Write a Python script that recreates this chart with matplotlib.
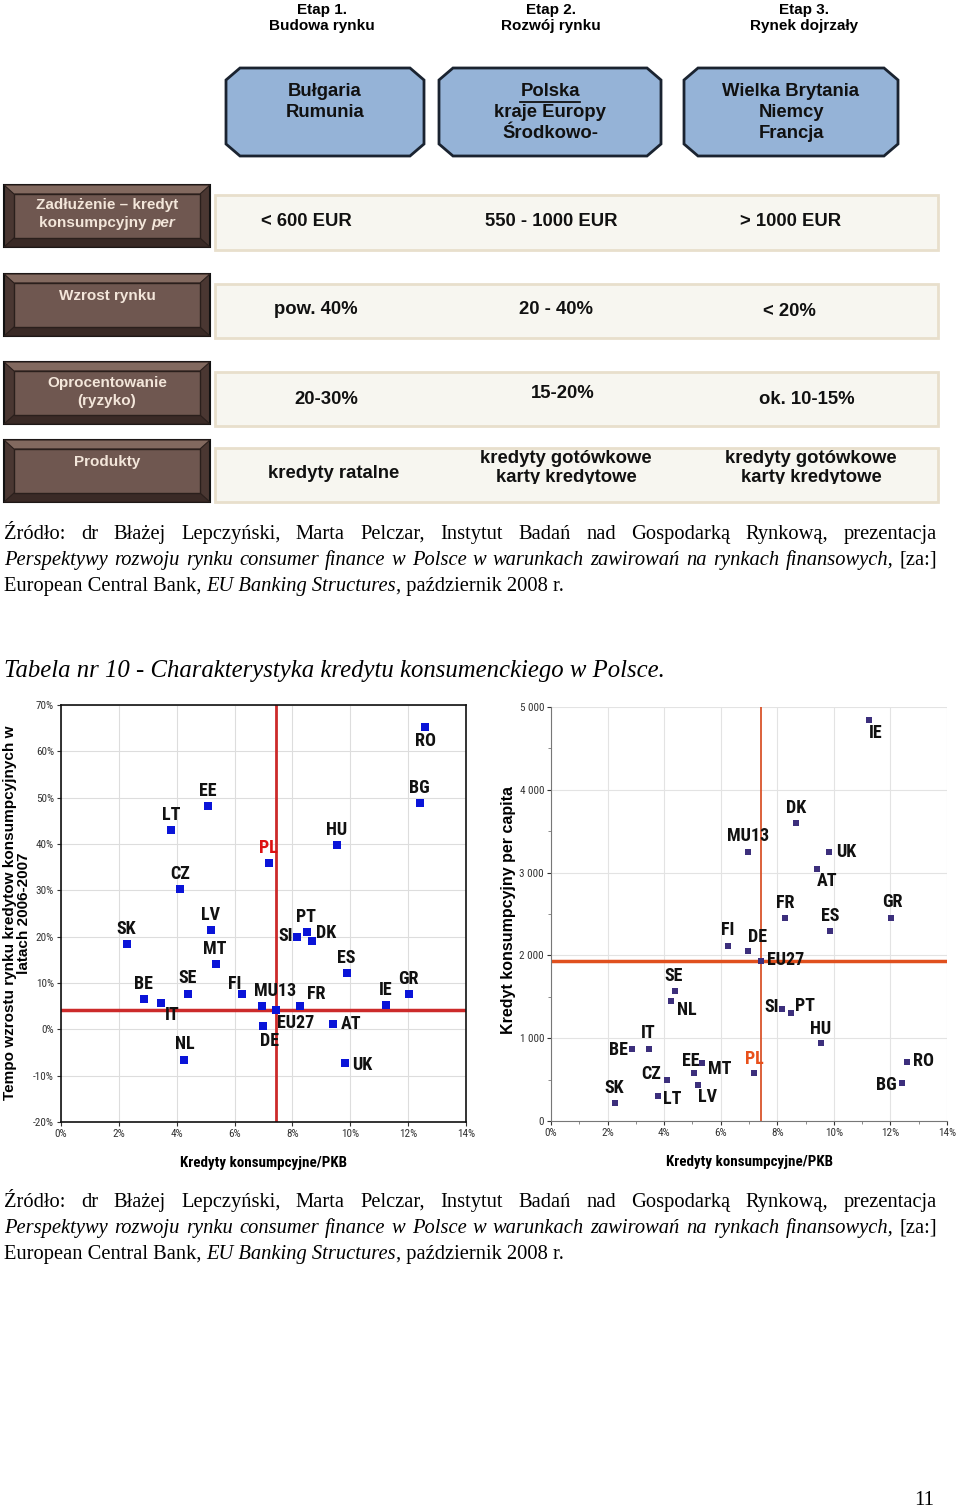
import matplotlib
matplotlib.use("Agg")
import matplotlib.pyplot as plt
from matplotlib.patches import Polygon, Rectangle
from matplotlib import font_manager
from matplotlib.ticker import FuncFormatter, MultipleLocator

# waska czcionka zamiast Arial Narrow
_fonts = {(f.name, f.weight) for f in font_manager.fontManager.ttflist}
NARROW = 'Liberation Sans'
for cand in ['Roboto Condensed', 'Open Sans Condensed', 'Fira Sans Condensed']:
    if any(n == cand and w in (700, 'bold') for n, w in _fonts):
        NARROW = cand
        break
SANS = 'Liberation Sans'
SERIF = 'Liberation Serif'

# ---- dane ----
etapy = ["Etap 1.\nBudowa rynku", "Etap 2.\nRozwój rynku", "Etap 3.\nRynek dojrzały"]
kraje_etapu = [["Bułgaria", "Rumunia"], ["Polska", "kraje Europy", "Środkowo-"],
               ["Wielka Brytania", "Niemcy", "Francja"]]
wiersze = ["Zadłużenie – kredyt\nkonsumpcyjny per", "Wzrost rynku", "Oprocentowanie\n(ryzyko)", "Produkty"]
zadluzenie = ["< 600 EUR", "550 - 1000 EUR", "> 1000 EUR"]
wzrost_rynku = ["pow. 40%", "20 - 40%", "< 20%"]
oprocentowanie = ["20-30%", "15-20%", "ok. 10-15%"]
produkty = ["kredyty ratalne", "kredyty gotówkowe\nkarty kredytowe", "kredyty gotówkowe\nkarty kredytowe"]

kraje = ['RO', 'BG', 'EE', 'LT', 'HU', 'PL', 'CZ', 'SK', 'LV', 'PT', 'SI', 'DK', 'MT', 'ES',
         'BE', 'IT', 'SE', 'FI', 'MU13', 'FR', 'EU27', 'IE', 'GR', 'DE', 'AT', 'NL', 'UK']
kredyty_pkb = [12.6, 12.4, 5.07, 3.8, 9.54, 7.18, 4.1, 2.27, 5.2, 8.5, 8.17, 8.66, 5.35, 9.87,
               2.88, 3.45, 4.38, 6.26, 6.95, 8.26, 7.44, 11.24, 12.02, 6.98, 9.4, 4.25, 9.83]
tempo_wzrostu = [65.3, 48.9, 48.2, 43.0, 39.8, 35.9, 30.2, 18.5, 21.4, 21.0, 19.9, 19.0, 14.1, 12.2,
                 6.6, 5.6, 7.7, 7.7, 5.1, 5.1, 4.1, 5.2, 7.7, 0.7, 1.1, -6.7, -7.25]
per_capita = [709, 463, 576, 306, 947, 576, 500, 222, 439, 1301, 1350, 3598, 701, 2297,
              874, 874, 1575, 2111, 3247, 2450, 1930, 4839, 2450, 2051, 3042, 1446, 3247]

# przesuniecia etykiet w px (dx, dy w dol, wyrownanie)
etyk_lewy = {'RO': (0, 14, 'center'), 'BG': (0, -15, 'center'), 'EE': (0, -15, 'center'),
             'LT': (0, -15, 'center'), 'HU': (0, -15, 'center'), 'PL': (0, -15, 'center'),
             'CZ': (1, -15, 'center'), 'SK': (0, -15, 'center'), 'LV': (-1, -15, 'center'),
             'PT': (-1, -15, 'center'), 'SI': (-4, -1, 'right'), 'DK': (4, -8, 'left'),
             'MT': (-1, -15, 'center'), 'ES': (0, -15, 'center'), 'BE': (-1, -15, 'center'),
             'IT': (11, 12, 'center'), 'SE': (0, -16, 'center'), 'FI': (-7, -10, 'center'),
             'MU13': (13, -15, 'center'), 'FR': (16, -12, 'center'), 'EU27': (19, 13, 'center'),
             'IE': (0, -15, 'center'), 'GR': (0, -15, 'center'), 'DE': (7, 15, 'center'),
             'AT': (8, 0, 'left'), 'NL': (1, -16, 'center'), 'UK': (7, 2, 'left')}
etyk_prawy = {'IE': (7, 13, 'center'), 'DK': (0, -15, 'center'), 'MU13': (0, -16, 'center'),
              'UK': (7, 0, 'left'), 'AT': (10, 12, 'center'), 'FR': (1, -15, 'center'),
              'GR': (1, -16, 'center'), 'ES': (0, -15, 'center'), 'FI': (0, -16, 'center'),
              'DE': (9, -14, 'center'), 'EU27': (6, -1, 'left'), 'SE': (-1, -15, 'center'),
              'NL': (6, 9, 'left'), 'SI': (-3, -2, 'right'), 'PT': (4, -7, 'left'),
              'HU': (0, -14, 'center'), 'BE': (-5, 1, 'right'), 'IT': (0, -16, 'center'),
              'RO': (6, -1, 'left'), 'MT': (6, 6, 'left'), 'EE': (-4, -12, 'center'),
              'PL': (0, -14, 'center'), 'CZ': (-6, -6, 'right'), 'LV': (9, 12, 'center'),
              'BG': (-5, 2, 'right'), 'LT': (5, 3, 'left'), 'SK': (-1, -15, 'center')}

fig = plt.figure(figsize=(9.6, 15.09), dpi=100)
ax0 = fig.add_axes([0, 0, 1, 1])
ax0.set_xlim(0, 960)
ax0.set_ylim(1509, 0)
ax0.set_axis_off()
rend = fig.canvas.get_renderer()

# ---- naglowki etapow ----
for x, t in zip([322, 551, 804], etapy):
    ax0.text(x, 18, t, ha='center', va='center', fontsize=11, fontweight='bold',
             family=SANS, linespacing=1.2)

# ---- osmiokaty ----
boxes = [(226, 424), (439, 661), (684, 898)]
y0, y1, cx, cy = 68, 156, 14, 12
for (xa, xb), lines in zip(boxes, kraje_etapu):
    pts = [(xa + cx, y0), (xb - cx, y0), (xb, y0 + cy), (xb, y1 - cy), (xb - cx, y1),
           (xa + cx, y1), (xa, y1 - cy), (xa, y0 + cy)]
    ax0.add_patch(Polygon(pts, closed=True, fc='#95B3D7', ec='#1a2330', lw=2))
    xm = (xa + xb) / 2
    for i, s in enumerate(lines):
        t = ax0.text(xm, 91 + 21.5 * i, s, ha='center', va='center', fontsize=13.3,
                     fontweight='bold', family=SANS, color='#111111')
        if s == "Polska":
            bb = t.get_window_extent(rend)
            ax0.plot([bb.x0, bb.x1], [101.5, 101.5], color='#111111', lw=1.3)

# ---- wiersze tabeli ----
rows_brown = [(185, 247), (274, 336), (362, 424), (440, 502)]
rows_light = [(195, 250), (284, 338), (372, 426), (448, 502)]
for (ya, yb) in rows_brown:
    xa, xb, ix, iy = 4, 210, 10, 9
    ax0.add_patch(Rectangle((xa, ya), xb - xa, yb - ya, fc='#4a3732', ec='#111111', lw=1.5))
    ax0.add_patch(Polygon([(xa, ya), (xb, ya), (xb - ix, ya + iy), (xa + ix, ya + iy)], fc='#82695f', ec='#2a1f1c', lw=0.8))
    ax0.add_patch(Polygon([(xa, yb), (xb, yb), (xb - ix, yb - iy), (xa + ix, yb - iy)], fc='#3a2a26', ec='#2a1f1c', lw=0.8))
    ax0.add_patch(Rectangle((xa + ix, ya + iy), xb - xa - 2 * ix, yb - ya - 2 * iy, fc='#6f5750', ec='#2a1f1c', lw=1))
for (ya, yb) in rows_light:
    ax0.add_patch(Rectangle((215, ya), 723, yb - ya, fc='#f7f6f0', ec='#e8dfcc', lw=2))

cream = '#f3e6da'
ax0.text(107, 205, "Zadłużenie – kredyt", ha='center', va='center', fontsize=11,
         fontweight='bold', family=SANS, color=cream)
t1 = ax0.text(0, 223, "konsumpcyjny ", va='center', fontsize=11, fontweight='bold', family=SANS, color=cream)
t2 = ax0.text(0, 223, "per", va='center', fontsize=11, fontweight='bold', style='italic', family=SANS, color=cream)
w1 = t1.get_window_extent(rend).width
w2 = t2.get_window_extent(rend).width
t1.set_x(107 - (w1 + w2) / 2)
t2.set_x(107 - (w1 + w2) / 2 + w1)
ax0.text(107, 296, wiersze[1], ha='center', va='center', fontsize=11, fontweight='bold', family=SANS, color=cream)
ax0.text(107, 392, wiersze[2], ha='center', va='center', fontsize=11, fontweight='bold', family=SANS, color=cream, linespacing=1.3)
ax0.text(107, 462, wiersze[3], ha='center', va='center', fontsize=11, fontweight='bold', family=SANS, color=cream)

kw = dict(ha='center', va='center', fontsize=13.3, fontweight='bold', family=SANS, color='#111111')
for x, s in zip([306, 551, 791], zadluzenie):
    ax0.text(x, 222, s, **kw)
for x, y, s in zip([316, 556, 789], [310, 310, 312], wzrost_rynku):
    ax0.text(x, y, s, **kw)
for x, y, s in zip([326, 563, 807], [400, 394, 400], oprocentowanie):
    ax0.text(x, y, s, **kw)
# drugi wiersz produktow jest w oryginale uciety od dolu
clip = Rectangle((215, 440), 723, 44, transform=ax0.transData, fc='none', ec='none')
ax0.add_patch(clip)
for x, s in zip([334, 566, 811], produkty):
    if '\n' in s:
        t = ax0.text(x, 468, s, linespacing=1.15, **kw)
        t.set_clip_on(True)
        t.set_clip_path(clip)
    else:
        ax0.text(x, 473, s, **kw)

# ---- teksty zrodla ----
def justify(y, words, x0=4, x1=937, size=14.8):
    ts = [ax0.text(0, y, w, fontsize=size, family=SERIF, style=st, va='baseline') for w, st in words]
    ws = [t.get_window_extent(rend).width for t in ts]
    gap = (x1 - x0 - sum(ws)) / (len(ts) - 1)
    x = x0
    for t, w in zip(ts, ws):
        t.set_x(x)
        x += w + gap

def flow(y, parts, x0=4, size=14.8):
    x = x0
    for s, st, sp in parts:
        t = ax0.text(x, y, s, fontsize=size, family=SERIF, style=st, va='baseline')
        x += t.get_window_extent(rend).width + sp

linia1 = "Źródło: dr Błażej Lepczyński, Marta Pelczar, Instytut Badań nad Gospodarką Rynkową, prezentacja"
linia2 = "Perspektywy rozwoju rynku consumer finance w Polsce w warunkach zawirowań na rynkach finansowych,"

def zrodlo(ybase):
    justify(ybase, [(w, 'normal') for w in linia1.split()])
    justify(ybase + 26, [(w, 'italic') for w in linia2.split()] + [("[za:]", 'normal')])
    flow(ybase + 52, [("European Central Bank,", 'normal', 5), ("EU Banking Structures", 'italic', 0),
                      (", październik 2008 r.", 'normal', 0)])

zrodlo(539)
zrodlo(1207)

ax0.text(4, 677, "Tabela nr 10 - Charakterystyka kredytu konsumenckiego w Polsce.", fontsize=17.8,
         family=SERIF, style='italic', va='baseline')
ax0.text(924, 1505, "11", fontsize=15, family=SERIF, ha='center', va='baseline')

# ---- wykres lewy ----
pct = FuncFormatter(lambda v, p: f"{v:.0f}%")
axL = fig.add_axes([61 / 960, 1 - 1122 / 1509, 405 / 960, 417 / 1509])
axL.set_xlim(0, 14)
axL.set_ylim(-20, 70)
axL.xaxis.set_major_locator(MultipleLocator(2))
axL.yaxis.set_major_locator(MultipleLocator(10))
axL.xaxis.set_major_formatter(pct)
axL.yaxis.set_major_formatter(pct)
axL.grid(True, color='#dddddd', lw=0.8)
axL.set_axisbelow(True)
for sp in axL.spines.values():
    sp.set_color('#111111')
    sp.set_linewidth(1.2)
axL.tick_params(labelsize=8, length=3, colors='#333333', pad=2)
for lab in axL.get_xticklabels() + axL.get_yticklabels():
    lab.set_family(NARROW)
axL.axhline(4.1, color='#cc2a2a', lw=2.5, zorder=2)
axL.axvline(7.44, color='#cc2a2a', lw=2, zorder=2)
axL.scatter(kredyty_pkb, tempo_wzrostu, marker='s', s=26, color='#0a14d8', zorder=3, linewidths=0)
for k, x, y in zip(kraje, kredyty_pkb, tempo_wzrostu):
    dx, dy, ha = etyk_lewy[k]
    axL.annotate(k, (x, y), xytext=(dx * 0.72, -dy * 0.72), textcoords='offset points',
                 ha=ha, va='center', fontsize=13, fontweight='bold', family=NARROW,
                 color='#dd1111' if k == 'PL' else '#111111', zorder=4)
axL.set_xlabel("Kredyty konsumpcyjne/PKB", fontsize=10.8, fontweight='bold', family=NARROW, labelpad=12)
ax0.text(17, 913, "Tempo wzrostu rynku kredytow konsumpcyjnych w\nlatach 2006-2007", rotation=90,
         ha='center', va='center', fontsize=11, fontweight='bold', family=SANS, linespacing=0.95)

# ---- wykres prawy ----
axR = fig.add_axes([551 / 960, 1 - 1121 / 1509, 396 / 960, 414 / 1509])
axR.set_xlim(0, 14)
axR.set_ylim(0, 5000)
axR.xaxis.set_major_locator(MultipleLocator(2))
axR.xaxis.set_minor_locator(MultipleLocator(1))
axR.yaxis.set_major_locator(MultipleLocator(1000))
axR.yaxis.set_minor_locator(MultipleLocator(500))
axR.xaxis.set_major_formatter(pct)
axR.yaxis.set_major_formatter(FuncFormatter(lambda v, p: f"{v:,.0f}".replace(',', ' ')))
axR.grid(True, color='#e3e3e3', lw=0.8)
axR.set_axisbelow(True)
axR.spines['top'].set_visible(False)
axR.spines['right'].set_visible(False)
axR.spines['left'].set_color('#777777')
axR.spines['bottom'].set_color('#777777')
axR.tick_params(labelsize=8, length=3, colors='#333333', pad=2)
axR.tick_params(which='minor', length=2, colors='#777777')
for lab in axR.get_xticklabels() + axR.get_yticklabels():
    lab.set_family(NARROW)
axR.axhline(1930, color='#e0501e', lw=2.5, zorder=2)
axR.axvline(7.44, color='#d9542b', lw=1.3, zorder=2)
axR.scatter(kredyty_pkb, per_capita, marker='s', s=22, color='#3c2f7c', zorder=3, linewidths=0)
for k, x, y in zip(kraje, kredyty_pkb, per_capita):
    dx, dy, ha = etyk_prawy[k]
    axR.annotate(k, (x, y), xytext=(dx * 0.72, -dy * 0.72), textcoords='offset points',
                 ha=ha, va='center', fontsize=13, fontweight='bold', family=NARROW,
                 color='#e8501a' if k == 'PL' else '#111111', zorder=4)
axR.set_xlabel("Kredyty konsumpcyjne/PKB", fontsize=10.8, fontweight='bold', family=NARROW, labelpad=12)
ax0.text(508, 910, "Kredyt konsumpcyjny per capita", rotation=90, ha='center', va='center',
         fontsize=11.5, fontweight='bold', family=SANS)

fig.savefig("out.png", dpi=100)
